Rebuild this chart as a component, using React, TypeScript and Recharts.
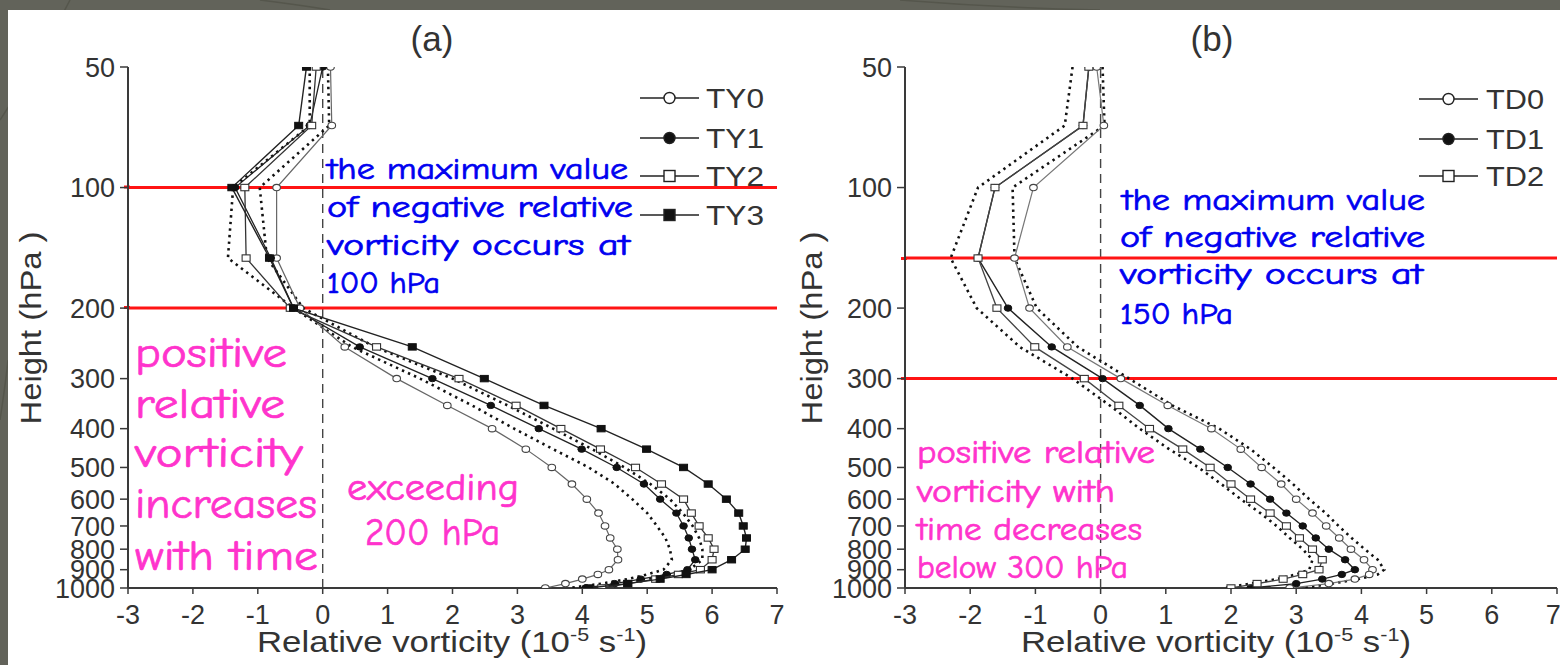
import React from 'react';
import { ScatterChart, Scatter, XAxis, YAxis, ReferenceLine } from 'recharts';

// Pressure levels (hPa) shared by every profile
const levels = [50, 70, 100, 150, 200, 250, 300, 350, 400, 450, 500, 550, 600, 650, 700, 750, 800, 850, 900, 925, 950, 975, 1000];

// Panel (a): typhoon stages, relative vorticity (1e-5 s-1)
const ty0 = [0.12, 0.14, -0.71, -0.71, -0.35, 0.34, 1.14, 1.92, 2.61, 3.13, 3.53, 3.84, 4.07, 4.25, 4.35, 4.43, 4.54, 4.55, 4.41, 4.24, 4.0, 3.74, 3.43];
const ty1 = [0.0, -0.2, -1.35, -0.8, -0.45, 0.57, 1.69, 2.59, 3.33, 3.99, 4.53, 4.95, 5.2, 5.45, 5.56, 5.64, 5.69, 5.74, 5.62, 5.3, 4.9, 4.5, 4.05];
const ty2 = [-0.1, -0.17, -1.2, -1.18, -0.5, 0.83, 2.1, 2.98, 3.67, 4.28, 4.82, 5.22, 5.56, 5.68, 5.8, 5.94, 6.03, 6.0, 5.82, 5.48, 5.13, 4.7, 4.3];
const ty3 = [-0.25, -0.37, -1.4, -0.82, -0.45, 1.38, 2.49, 3.41, 4.29, 4.99, 5.56, 5.94, 6.22, 6.41, 6.48, 6.53, 6.51, 6.3, 6.0, 5.6, 5.2, 4.7, 4.1];
const tyDotA = [-0.2, -0.2, -1.38, -1.46, -0.45, 0.45, 1.5, 2.3, 2.95, 3.55, 4.1, 4.5, 4.77, 5.0, 5.15, 5.28, 5.35, 5.38, 5.25, 5.0, 4.7, 4.3, 3.8];
const tyDotB = [0.08, 0.1, -0.97, -0.86, -0.3, 0.8, 2.0, 2.85, 3.55, 4.15, 4.65, 5.05, 5.35, 5.55, 5.7, 5.8, 5.85, 5.85, 5.65, 5.35, 5.0, 4.6, 4.15];

// Panel (b): tropical depression stages
const td0 = [-0.06, 0.05, -1.03, -1.32, -1.09, -0.51, 0.31, 1.03, 1.7, 2.15, 2.47, 2.77, 3.0, 3.25, 3.46, 3.66, 3.84, 4.04, 4.17, 4.12, 3.9, 3.5, 2.9];
const td1 = [-0.18, -0.27, -1.62, -1.88, -1.42, -0.75, 0.03, 0.6, 1.04, 1.53, 1.95, 2.3, 2.6, 2.85, 3.1, 3.3, 3.5, 3.75, 3.9, 3.7, 3.4, 3.0, 2.3];
const td2 = [-0.18, -0.27, -1.62, -1.88, -1.59, -1.01, -0.25, 0.28, 0.75, 1.26, 1.68, 2.0, 2.3, 2.6, 2.85, 3.05, 3.25, 3.4, 3.35, 3.1, 2.8, 2.4, 2.0];
const tdDotL = [-0.43, -0.55, -1.88, -2.3, -1.9, -1.24, -0.43, 0.14, 0.6, 1.05, 1.5, 1.85, 2.15, 2.45, 2.7, 2.9, 3.1, 3.25, 3.2, 3.0, 2.7, 2.3, 1.9];
const tdDotR = [0.03, 0.06, -1.35, -1.32, -0.98, -0.35, 0.44, 1.1, 1.82, 2.3, 2.65, 2.95, 3.2, 3.45, 3.65, 3.85, 4.05, 4.25, 4.35, 4.25, 3.95, 3.55, 3.1];

const xTicks = [-3, -2, -1, 0, 1, 2, 3, 4, 5, 6, 7];
const pTicks = [50, 100, 200, 300, 400, 500, 600, 700, 800, 900, 1000];

const legendA = ['TY0', 'TY1', 'TY2', 'TY3'];
const legendB = ['TD0', 'TD1', 'TD2'];

const toPoints = (vals: number[]) => levels.map((p, i) => ({ v: vals[i], p }));

const AXIS = '#3a3a3a';
const SANS = '"Liberation Sans", Arial, sans-serif';
const TICK_FONT = { fontSize: 27, fill: '#333', fontFamily: SANS };
const RED = '#ff1414';

type MarkerKind = 'openCircle' | 'filledCircle' | 'openSquare' | 'filledSquare' | 'none';

const drawMarker = (kind: MarkerKind, cx: number, cy: number) => {
  switch (kind) {
    case 'openCircle':
      return <ellipse cx={cx} cy={cy} rx={3.8} ry={3.2} fill="#fff" stroke="#444" strokeWidth={1.1} />;
    case 'filledCircle':
      return <ellipse cx={cx} cy={cy} rx={3.8} ry={3.2} fill="#111" stroke="#111" strokeWidth={1} />;
    case 'openSquare':
      return <rect x={cx - 4} y={cy - 3.2} width={8} height={6.4} fill="#fff" stroke="#333" strokeWidth={1.1} />;
    case 'filledSquare':
      return <rect x={cx - 4} y={cy - 3.2} width={8} height={6.4} fill="#111" stroke="#111" strokeWidth={1} />;
    default:
      return <g />;
  }
};

const markerShape = (kind: MarkerKind) => (props: any) => drawMarker(kind, props.cx, props.cy);

type SeriesDef = { name: string; vals: number[]; kind: MarkerKind; stroke: string; width: number; dotted?: boolean };

const seriesA: SeriesDef[] = [
  { name: 'dotA', vals: tyDotA, kind: 'none', stroke: '#111', width: 2.6, dotted: true },
  { name: 'dotB', vals: tyDotB, kind: 'none', stroke: '#111', width: 2.6, dotted: true },
  { name: 'TY0', vals: ty0, kind: 'openCircle', stroke: '#666', width: 1.2 },
  { name: 'TY1', vals: ty1, kind: 'filledCircle', stroke: '#222', width: 1.3 },
  { name: 'TY2', vals: ty2, kind: 'openSquare', stroke: '#333', width: 1.3 },
  { name: 'TY3', vals: ty3, kind: 'filledSquare', stroke: '#222', width: 1.4 },
];

const seriesB: SeriesDef[] = [
  { name: 'dotL', vals: tdDotL, kind: 'none', stroke: '#111', width: 2.6, dotted: true },
  { name: 'dotR', vals: tdDotR, kind: 'none', stroke: '#111', width: 2.6, dotted: true },
  { name: 'TD0', vals: td0, kind: 'openCircle', stroke: '#777', width: 1.2 },
  { name: 'TD1', vals: td1, kind: 'filledCircle', stroke: '#222', width: 1.4 },
  { name: 'TD2', vals: td2, kind: 'openSquare', stroke: '#444', width: 1.3 },
];

type PanelProps = {
  left: number;
  width: number;
  yAxisWidth: number;
  rightMargin: number;
  series: SeriesDef[];
  redLevels: number[];
};

const Panel = ({ left, width, yAxisWidth, rightMargin, series, redLevels }: PanelProps) => (
  <div style={{ position: 'absolute', left, top: 0 }}>
    <ScatterChart width={width} height={665} margin={{ top: 67, right: rightMargin, bottom: 17, left: 0 }}>
      <XAxis
        dataKey="v"
        type="number"
        domain={[-3, 7]}
        ticks={xTicks}
        allowDataOverflow
        height={60}
        tickSize={6}
        tickMargin={11}
        tick={TICK_FONT}
        axisLine={{ stroke: AXIS, strokeWidth: 2 }}
        tickLine={{ stroke: AXIS, strokeWidth: 1.5 }}
      />
      <XAxis xAxisId="top" orientation="top" type="number" domain={[-3, 7]} height={0} tick={false} tickLine={false} axisLine={{ stroke: AXIS, strokeWidth: 2 }} />
      <YAxis
        dataKey="p"
        type="number"
        scale="log"
        domain={[50, 1000]}
        reversed
        ticks={pTicks}
        allowDataOverflow
        interval={0}
        width={yAxisWidth}
        tickSize={8}
        tickMargin={5}
        tick={TICK_FONT}
        axisLine={{ stroke: AXIS, strokeWidth: 2 }}
        tickLine={{ stroke: AXIS, strokeWidth: 1.5 }}
      />
      <YAxis yAxisId="right" orientation="right" type="number" domain={[0, 1]} width={0} tick={false} tickLine={false} axisLine={{ stroke: AXIS, strokeWidth: 2 }} />
      <ReferenceLine x={0} stroke="#444" strokeWidth={1.4} strokeDasharray="9 6" />
      {series.map((s) => (
        <Scatter
          key={s.name}
          name={s.name}
          data={toPoints(s.vals)}
          isAnimationActive={false}
          legendType="none"
          line={{ stroke: s.stroke, strokeWidth: s.width, strokeDasharray: s.dotted ? '2.4 4.2' : undefined, fill: 'none' }}
          lineType="joint"
          shape={markerShape(s.kind)}
        />
      ))}
      {redLevels.map((p) => (
        <ReferenceLine key={p} y={p} stroke={RED} strokeWidth={3} ifOverflow="visible" />
      ))}
    </ScatterChart>
  </div>
);

const LegendBlock = ({ items, kinds, lineX0, lineX1, textX, ys }: { items: string[]; kinds: MarkerKind[]; lineX0: number; lineX1: number; textX: number; ys: number[] }) => (
  <g>
    {items.map((name, i) => (
      <g key={name}>
        <line x1={lineX0} x2={lineX1} y1={ys[i]} y2={ys[i]} stroke="#222" strokeWidth={1.6} />
        {kinds[i] === 'openCircle' || kinds[i] === 'filledCircle' ? (
          <circle cx={(lineX0 + lineX1) / 2} cy={ys[i]} r={5.5} fill={kinds[i] === 'openCircle' ? '#fff' : '#111'} stroke="#222" strokeWidth={1.4} />
        ) : (
          <rect x={(lineX0 + lineX1) / 2 - 5.5} y={ys[i] - 5.5} width={11} height={11} fill={kinds[i] === 'openSquare' ? '#fff' : '#111'} stroke="#222" strokeWidth={1.4} />
        )}
        <text x={textX} y={ys[i] + 10} fontSize={28} fill="#333" fontFamily={SANS} textLength={58} lengthAdjust="spacingAndGlyphs">{name}</text>
      </g>
    ))}
  </g>
);

const HAND = '"Comic Sans MS", "Comic Neue", "DejaVu Sans", sans-serif';

const Note = ({ x, y, w, size, color, children }: { x: number; y: number; w: number; size: number; color: string; children: string }) => (
  <text x={x} y={y} fontSize={size} fill={color} stroke={color} strokeWidth={0.7} fontFamily={HAND} textLength={w} lengthAdjust="spacingAndGlyphs">
    {children}
  </text>
);

const BLUE = '#0000f0';
const PINK = '#ff33cc';

const XTitle = ({ cx }: { cx: number }) => (
  <text x={cx} y={652} fontSize={29} fill="#333" fontFamily={SANS} textAnchor="middle" textLength={390} lengthAdjust="spacingAndGlyphs">
    Relative vorticity (10<tspan dy={-11} fontSize={18}>-5</tspan><tspan dy={11}> s</tspan><tspan dy={-11} fontSize={18}>-1</tspan><tspan dy={11}>)</tspan>
  </text>
);

export default function App() {
  return (
    <div style={{ position: 'absolute', left: 0, top: 0, width: 1560, height: 665, background: '#62635a', overflow: 'hidden' }}>
      <svg width={1560} height={665} style={{ position: 'absolute', left: 0, top: 0 }}>
        <path d="M0 120 Q 40 60 70 0" stroke="#55564c" strokeWidth={1.5} fill="none" />
        <path d="M0 420 Q 6 380 8 360" stroke="#55564c" strokeWidth={1.5} fill="none" />
        <path d="M260 0 Q 300 5 330 10" stroke="#55564c" strokeWidth={1.5} fill="none" />
        <path d="M900 0 Q 1000 8 1100 10" stroke="#55564c" strokeWidth={1.5} fill="none" />
        <rect x={8} y={10} width={1552} height={655} fill="#ffffff" />
      </svg>

      {/* legends sit underneath the plotted lines */}
      <svg width={1560} height={665} style={{ position: 'absolute', left: 0, top: 0 }}>
        <LegendBlock items={legendA} kinds={['openCircle', 'filledCircle', 'openSquare', 'filledSquare']} lineX0={640} lineX1={699} textX={706} ys={[98, 138, 176, 215]} />
        <LegendBlock items={legendB} kinds={['openCircle', 'filledCircle', 'openSquare']} lineX0={1419} lineX1={1478} textX={1486} ys={[99, 139, 176]} />
        {/* short red stubs continuing the marker lines over the tick area */}
        <line x1={124} x2={130} y1={187} y2={187} stroke={RED} strokeWidth={3} />
        <line x1={124} x2={130} y1={307.5} y2={307.5} stroke={RED} strokeWidth={3} />
        <line x1={901} x2={907} y1={258.5} y2={258.5} stroke={RED} strokeWidth={3} />
        <line x1={901} x2={907} y1={378.5} y2={378.5} stroke={RED} strokeWidth={3} />
      </svg>

      <Panel left={0} width={800} yAxisWidth={128} rightMargin={23} series={seriesA} redLevels={[100, 200]} />
      <Panel left={800} width={760} yAxisWidth={105} rightMargin={3} series={seriesB} redLevels={[150, 300]} />

      <svg width={1560} height={665} style={{ position: 'absolute', left: 0, top: 0, pointerEvents: 'none' }}>
        <text x={432} y={51} fontSize={35} fill="#333" fontFamily={SANS} textAnchor="middle">(a)</text>
        <text x={1212} y={51} fontSize={35} fill="#333" fontFamily={SANS} textAnchor="middle">(b)</text>

        <text transform="translate(41 328) rotate(-90)" fontSize={29} fill="#333" fontFamily={SANS} textAnchor="middle" textLength={193} lengthAdjust="spacingAndGlyphs">Height (hPa )</text>
        <text transform="translate(822 328) rotate(-90)" fontSize={29} fill="#333" fontFamily={SANS} textAnchor="middle" textLength={193} lengthAdjust="spacingAndGlyphs">Height (hPa )</text>

        <XTitle cx={452} />
        <XTitle cx={1216} />

        <Note x={327} y={179} w={301} size={31} color={BLUE}>the  maximum  value</Note>
        <Note x={327} y={217} w={306} size={31} color={BLUE}>of  negative  relative</Note>
        <Note x={327} y={255} w={303} size={31} color={BLUE}>vorticity  occurs  at</Note>
        <Note x={327} y={293} w={113} size={31} color={BLUE}>100 hPa</Note>

        <Note x={135} y={367} w={152} size={42} color={PINK}>positive</Note>
        <Note x={135} y={418} w={150} size={42} color={PINK}>relative</Note>
        <Note x={135} y={467} w={168} size={42} color={PINK}>vorticity</Note>
        <Note x={135} y={518} w={182} size={42} color={PINK}>increases</Note>
        <Note x={135} y={570} w={183} size={42} color={PINK}>with time</Note>

        <Note x={347} y={500} w={172} size={38} color={PINK}>exceeding</Note>
        <Note x={365} y={545} w={135} size={38} color={PINK}>200 hPa</Note>

        <Note x={1122} y={210} w={303} size={31} color={BLUE}>the  maximum  value</Note>
        <Note x={1120} y={247} w={305} size={31} color={BLUE}>of  negative  relative</Note>
        <Note x={1120} y={284} w={303} size={31} color={BLUE}>vorticity  occurs  at</Note>
        <Note x={1120} y={324} w={113} size={31} color={BLUE}>150 hPa</Note>

        <Note x={917} y={463} w={238} size={32} color={PINK}>positive relative</Note>
        <Note x={917} y={502} w={198} size={32} color={PINK}>vorticity with</Note>
        <Note x={917} y={540} w={225} size={32} color={PINK}>time decreases</Note>
        <Note x={917} y={578} w={211} size={32} color={PINK}>below 300 hPa</Note>
      </svg>
    </div>
  );
}
